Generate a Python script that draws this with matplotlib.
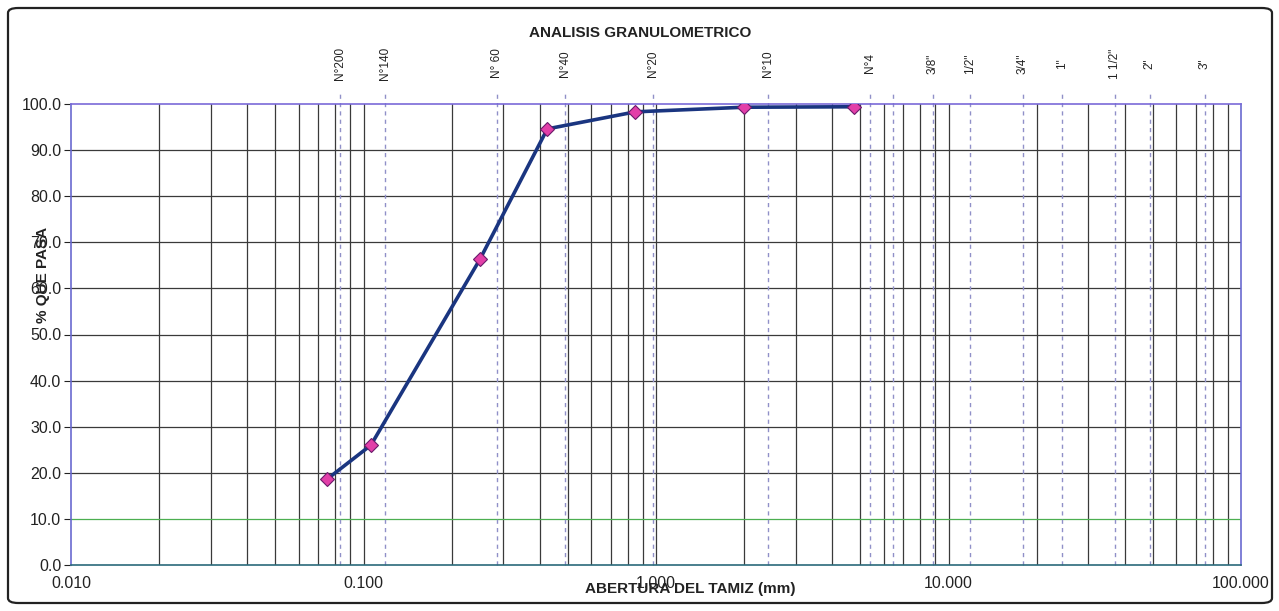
import matplotlib
matplotlib.use("Agg")
import matplotlib.pyplot as plt
from matplotlib.patches import FancyBboxPatch
from matplotlib.ticker import FixedLocator, NullFormatter

plt.rcParams['font.family'] = ['Liberation Sans', 'DejaVu Sans']

# ---- data ----
abertura_mm = [0.075, 0.106, 0.250, 0.425, 0.850, 2.00, 4.75]
pct_pasa = [18.6, 26.0, 66.3, 94.6, 98.3, 99.3, 99.4]

sieve_labels = ["N°200", "N°140", "N° 60", "N°40", "N°20", "N°10", "N°4", "",
                "3/8\"", "1/2\"", "3/4\"", "1\"", "1 1/2\"", "2\"", "3\""]
sieve_pos = [0.0832, 0.1185, 0.2857, 0.489, 0.977, 2.415, 5.39, 6.46,
             8.85, 11.85, 17.97, 24.4, 37.1, 48.8, 75.3]

x_ticks = [0.01, 0.1, 1, 10, 100]
x_ticklabels = ["0.010", "0.100", "1.000", "10.000", "100.000"]
y_ticks = [0, 10, 20, 30, 40, 50, 60, 70, 80, 90, 100]
y_ticklabels = ["%.1f" % v for v in y_ticks]

W, H = 1279, 611
fig = plt.figure(figsize=(W / 100, H / 100), dpi=100)
fig.patch.set_facecolor("white")

# outer rounded frame
frame = FancyBboxPatch((8 / W, 8 / H), (1272 - 8) / W, (603 - 8) / H,
                       boxstyle="round,pad=0,rounding_size=0.008",
                       transform=fig.transFigure, fill=False,
                       edgecolor="#222222", linewidth=1.6)
fig.patches.append(frame)

ax = fig.add_axes([71 / W, 46 / H, (1241 - 71) / W, (565 - 104) / H])
ax.set_xscale("log")
ax.set_xlim(0.01, 100)
ax.set_ylim(0, 100)

# grid lines
minor = [m * 10.0 ** e for e in range(-2, 2) for m in range(2, 10)]
for xv in minor + x_ticks[1:-1]:
    ax.axvline(xv, color="#3a3a3a", linewidth=0.9, zorder=1)
for yv in y_ticks[1:-1]:
    ax.axhline(yv, color="#3a3a3a" if yv != 10 else "#4caf50",
               linewidth=0.9, zorder=1)

# sieve dashed lines + labels
ax.vlines(sieve_pos, 0, 102.6, colors="#9090c8", linestyles=(0, (3, 3)),
          linewidth=1.0, clip_on=False, zorder=2)
for xv, lab in zip(sieve_pos, sieve_labels):
    if lab:
        ax.text(xv, 108.8, lab, rotation=90, ha="center", va="center",
                fontsize=8.5, color="#222222", clip_on=False)

# data curve
ax.plot(abertura_mm, pct_pasa, color="#1a3580", linewidth=2.6, zorder=4,
        marker="D", markersize=7, markerfacecolor="#e23fa8",
        markeredgecolor="#6a1a6a", markeredgewidth=0.8)

# spines
ax.spines["left"].set_color("#6a6ad0")
ax.spines["top"].set_color("#7a6ad8")
ax.spines["right"].set_color("#6a6ad0")
ax.spines["bottom"].set_color("#2a6a7a")
for s in ax.spines.values():
    s.set_linewidth(1.2)

ax.xaxis.set_major_locator(FixedLocator(x_ticks))
ax.xaxis.set_minor_locator(FixedLocator(minor))
ax.xaxis.set_minor_formatter(NullFormatter())
ax.set_xticklabels(x_ticklabels)
ax.set_yticks(y_ticks)
ax.set_yticklabels(y_ticklabels)
ax.tick_params(axis="x", which="both", length=0, labelsize=11.5, pad=8,
               colors="#222222")
ax.tick_params(axis="y", length=5, labelsize=11.5, pad=2, colors="#222222",
               direction="out")
for t in ax.get_yticklines():
    t.set_color("#6a6ad0")

fig.text(640 / W, 1 - 33 / H, "ANALISIS GRANULOMETRICO", ha="center",
         va="center", fontsize=11, fontweight="bold", color="#222222")
fig.text(43 / W, 1 - 275 / H, "% QUE PASA", ha="center", va="center",
         rotation=90, fontsize=11, fontweight="bold", color="#222222")
fig.text(690 / W, 1 - 589 / H, "ABERTURA DEL TAMIZ (mm)", ha="center",
         va="center", fontsize=11, fontweight="bold", color="#222222")

fig.savefig("out.png", dpi=100)
